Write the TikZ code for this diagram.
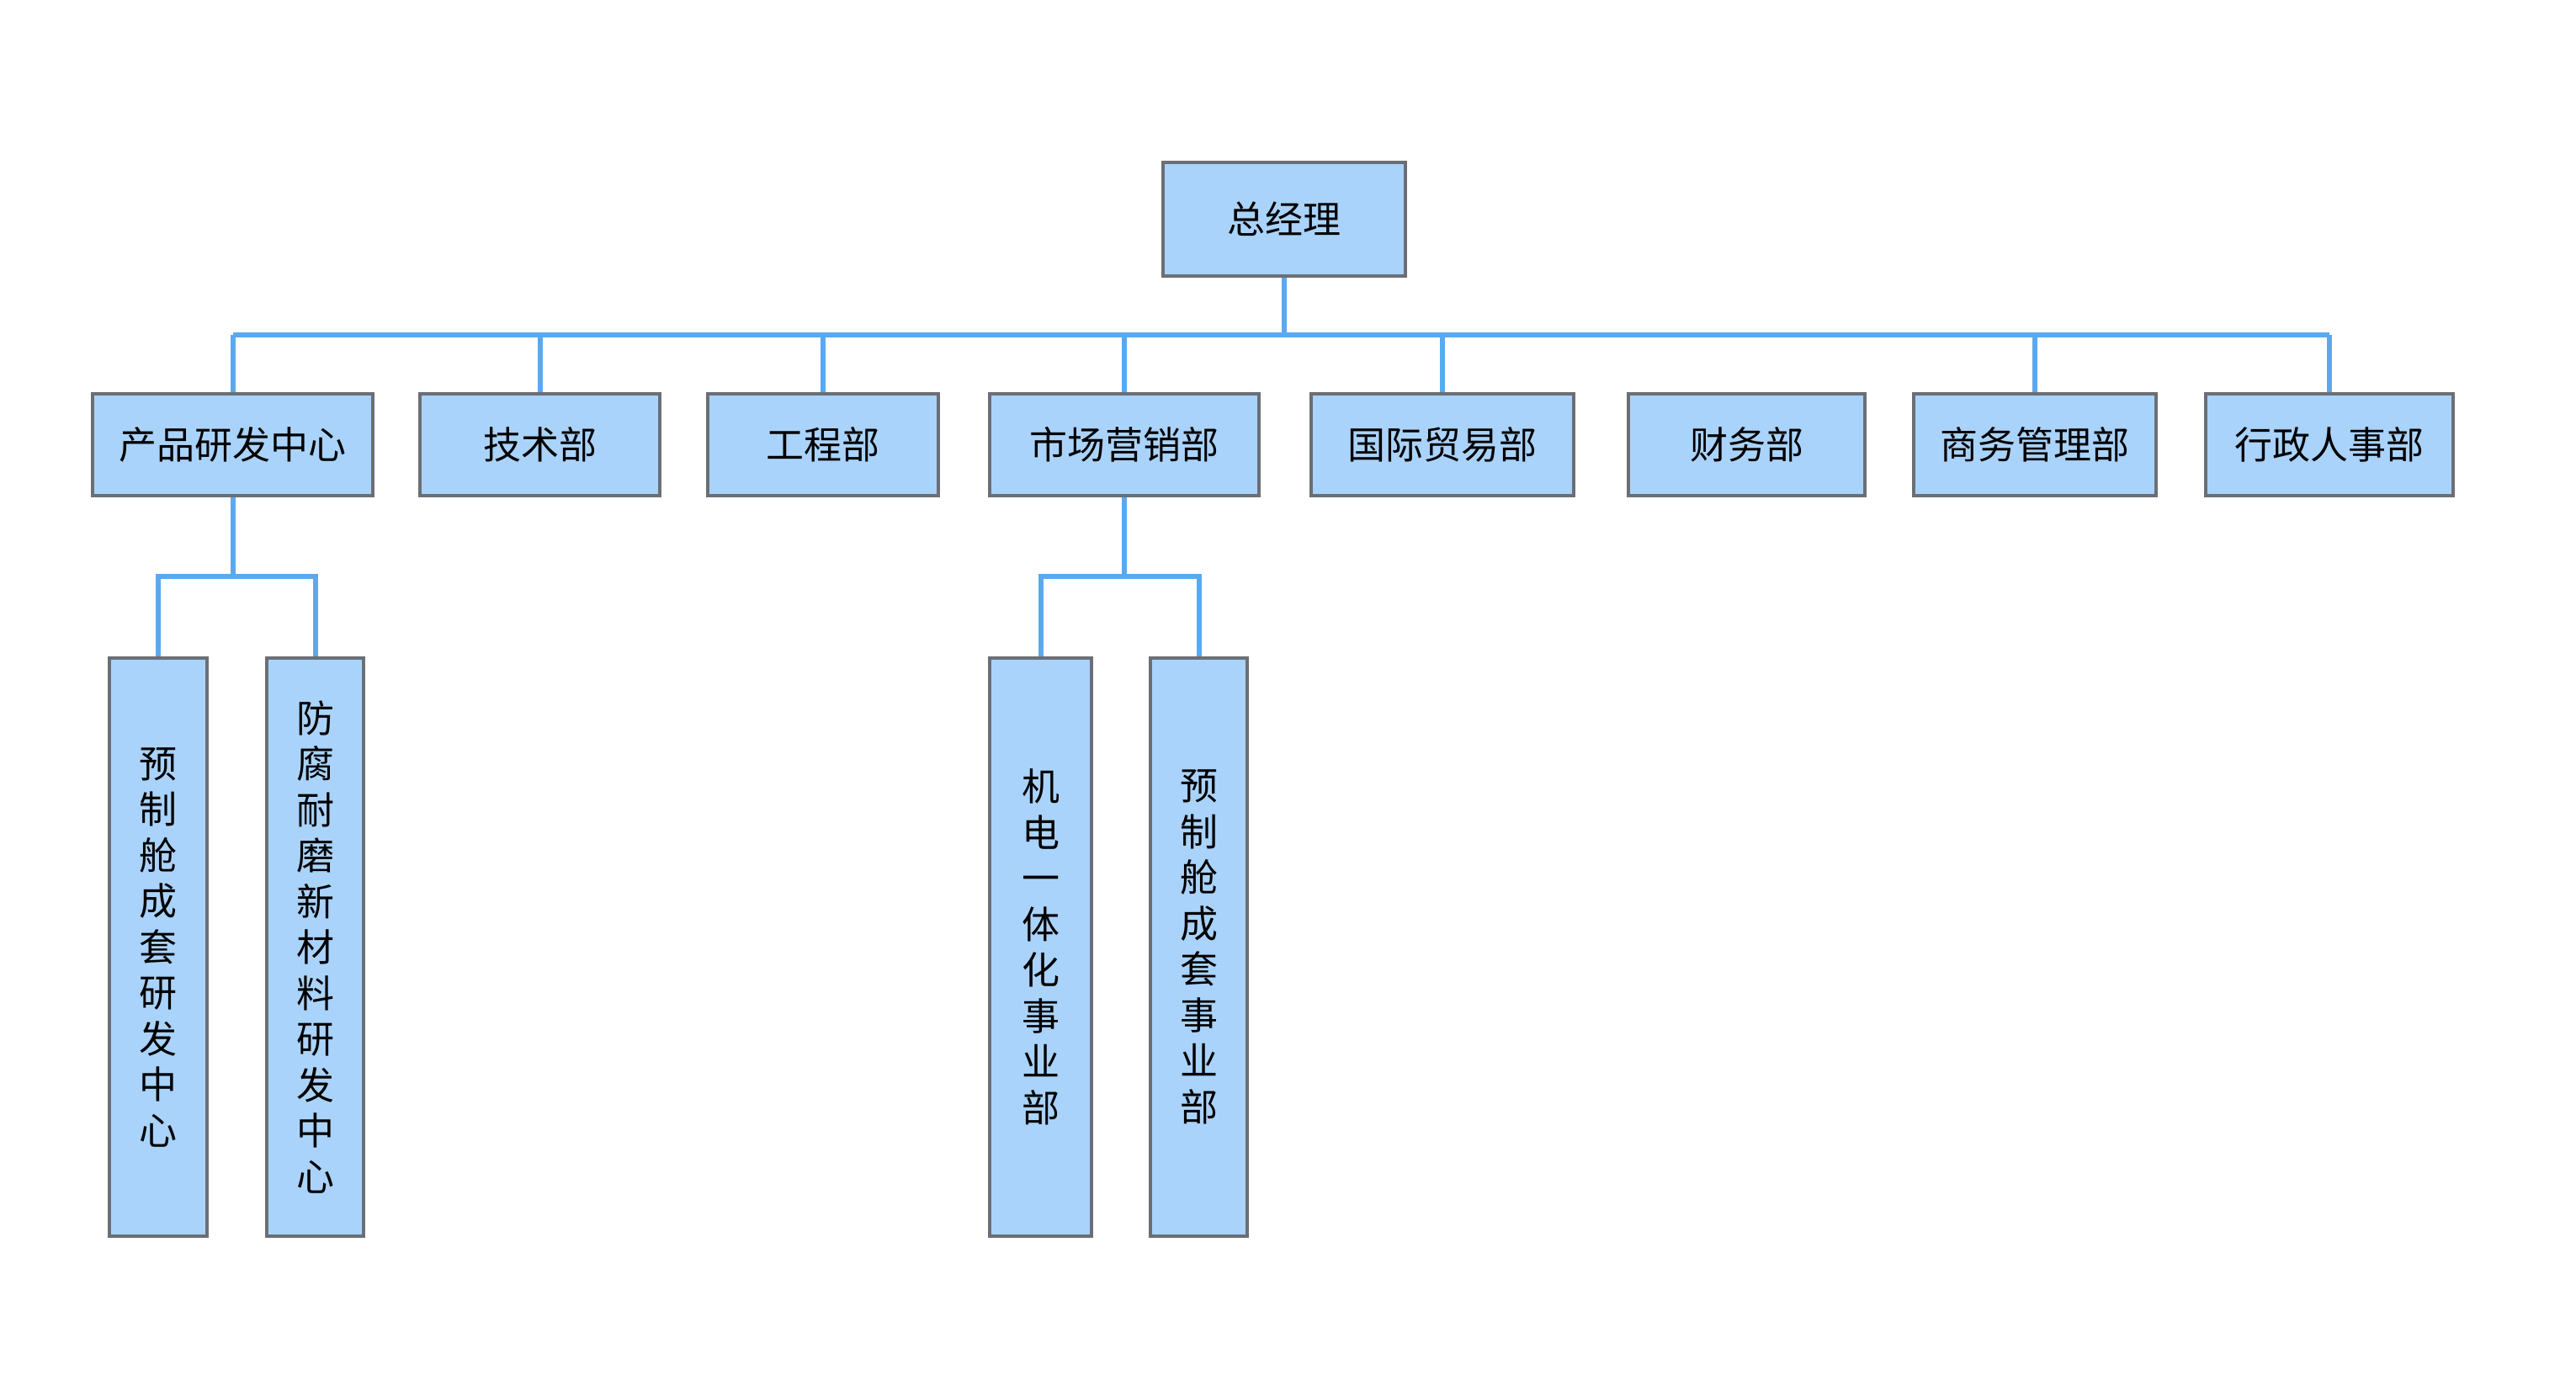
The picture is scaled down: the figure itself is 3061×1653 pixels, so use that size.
\documentclass[tikz,border=0pt]{standalone}
\usepackage{fontspec}
\setmainfont{Noto Sans CJK SC}
\definecolor{boxfill}{HTML}{AAD3FB}
\definecolor{boxline}{HTML}{6B6F75}
\definecolor{conn}{HTML}{5AA9F0}
\tikzset{
  orgbox/.style={draw=boxline, line width=4pt, fill=boxfill, inner sep=0pt, font=\fontsize{45pt}{54.5pt}\selectfont, anchor=center},
  vbox/.style={orgbox, align=center},
  link/.style={draw=conn, line width=6pt}
}
\newcommand{\mybox}[6]{% name, x1, y1, x2, y2, text
  \node[orgbox, minimum width=#4pt-#2pt, minimum height=#5pt-#3pt] (#1) at ({(#2+#4)/2*1pt}, {-(#3+#5)/2*1pt}) {#6};}
\newcommand{\myvbox}[6]{%
  \node[vbox, minimum width=#4pt-#2pt, minimum height=#5pt-#3pt] (#1) at ({(#2+#4)/2*1pt}, {-(#3+#5)/2*1pt}) {#6};}
\begin{document}
\begin{tikzpicture}[x=1pt,y=-1pt]
\useasboundingbox (0,0) rectangle (3061,1653);
% top
\mybox{gm}{1382}{193}{1670}{328}{总经理}
% second row
\mybox{rd}{110}{468}{443}{589}{产品研发中心}
\mybox{tech}{499}{468}{784}{589}{技术部}
\mybox{eng}{841}{468}{1115}{589}{工程部}
\mybox{mkt}{1176}{468}{1496}{589}{市场营销部}
\mybox{intl}{1558}{468}{1870}{589}{国际贸易部}
\mybox{fin}{1935}{468}{2216}{589}{财务部}
\mybox{biz}{2274}{468}{2562}{589}{商务管理部}
\mybox{hr}{2621}{468}{2915}{589}{行政人事部}
% third row
\myvbox{s1}{130}{782}{246}{1469}{预\\制\\舱\\成\\套\\研\\发\\中\\心}
\myvbox{s2}{317}{782}{432}{1469}{防\\腐\\耐\\磨\\新\\材\\料\\研\\发\\中\\心}
\myvbox{s3}{1176}{782}{1297}{1469}{机\\电\\一\\体\\化\\事\\业\\部}
\myvbox{s4}{1367}{782}{1482}{1469}{预\\制\\舱\\成\\套\\事\\业\\部}
% connectors
\begin{scope}[on background layer/.try]
\coordinate (busL) at (rd.north |- 0,398);
\coordinate (busR) at (hr.north |- 0,398);
\draw[link] (gm.south) -- (gm.south |- busL);
\draw[link] (busL) -- (busR);
\foreach \n in {rd,tech,eng,mkt,intl,biz,hr}
  \draw[link] (\n.north |- busL) -- (\n.north);
\coordinate (sbL) at (s1.north |- 0,685);
\draw[link] (rd.south) -- (rd.south |- sbL);
\draw[link] (s1.north) -- (s1.north |- sbL) -- (s2.north |- sbL) -- (s2.north);
\draw[link] (mkt.south) -- (mkt.south |- sbL);
\draw[link] (s3.north) -- (s3.north |- sbL) -- (s4.north |- sbL) -- (s4.north);
\end{scope}
\end{tikzpicture}
\end{document}
